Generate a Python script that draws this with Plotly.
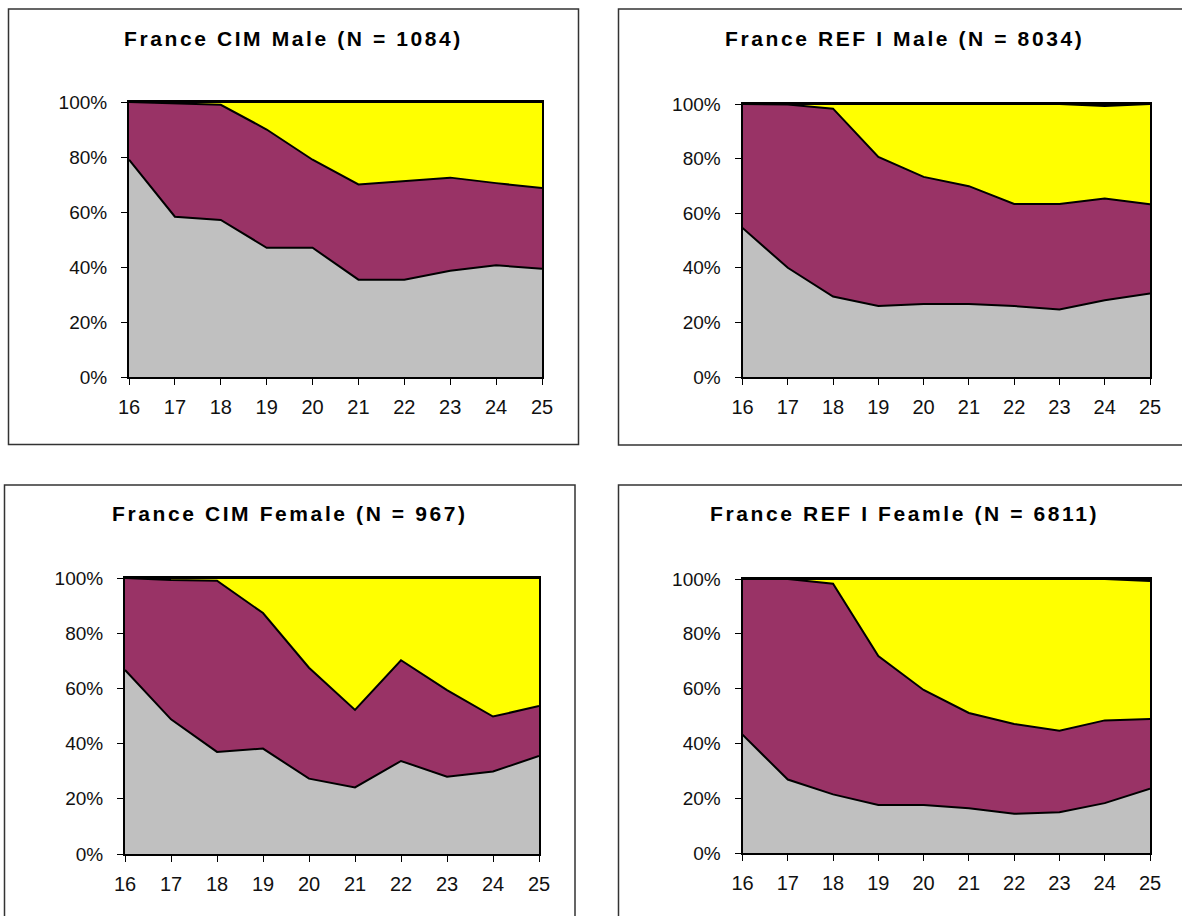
import plotly.graph_objects as go

W, H = 1182, 916

ages = [16, 17, 18, 19, 20, 21, 22, 23, 24, 25]
y_ticks = [0, 20, 40, 60, 80, 100]
y_tick_labels = ["0%", "20%", "40%", "60%", "80%", "100%"]

titles = [
    "France CIM Male (N = 1084)",
    "France REF I Male (N = 8034)",
    "France CIM Female (N = 967)",
    "France REF I Feamle (N = 6811)",
]

# stacked shares (%) per panel, bottom to top
cim_male_grey = [79.0, 58.3, 57.1, 47.0, 47.0, 35.4, 35.4, 38.6, 40.6, 39.4]
cim_male_purple = [21.0, 41.2, 41.9, 43.0, 32.0, 34.6, 35.9, 33.9, 29.9, 29.3]
cim_male_yellow = [0.0, 0.5, 1.0, 10.0, 21.0, 30.0, 28.7, 27.5, 29.5, 31.3]
cim_male_other = [0, 0, 0, 0, 0, 0, 0, 0, 0, 0]

ref_male_grey = [54.6, 40.0, 29.5, 26.0, 26.7, 26.7, 26.0, 24.7, 28.1, 30.6]
ref_male_purple = [45.4, 59.8, 68.8, 54.6, 46.6, 43.2, 37.4, 38.7, 37.3, 32.7]
ref_male_yellow = [0.0, 0.2, 1.7, 19.4, 26.7, 30.1, 36.6, 36.6, 33.9, 36.7]
ref_male_other = [0, 0, 0, 0, 0, 0, 0, 0, 0.7, 0]

cim_female_grey = [66.7, 48.8, 37.0, 38.2, 27.3, 24.1, 33.7, 28.0, 29.9, 35.5]
cim_female_purple = [33.3, 50.5, 62.0, 49.1, 40.2, 28.1, 36.5, 31.4, 19.9, 18.1]
cim_female_yellow = [0.0, 0.7, 1.0, 12.7, 32.5, 47.8, 29.8, 40.6, 50.2, 46.4]
cim_female_other = [0, 0, 0, 0, 0, 0, 0, 0, 0, 0]

ref_female_grey = [43.2, 26.8, 21.4, 17.5, 17.5, 16.3, 14.3, 14.9, 18.2, 23.5]
ref_female_purple = [56.8, 73.2, 76.9, 54.4, 42.0, 34.8, 32.8, 29.7, 30.2, 25.4]
ref_female_yellow = [0.0, 0.0, 1.7, 28.1, 40.5, 48.9, 52.9, 55.4, 51.6, 50.4]
ref_female_other = [0, 0, 0, 0, 0, 0, 0, 0, 0, 0.7]

panels = [
    [cim_male_grey, cim_male_purple, cim_male_yellow, cim_male_other],
    [ref_male_grey, ref_male_purple, ref_male_yellow, ref_male_other],
    [cim_female_grey, cim_female_purple, cim_female_yellow, cim_female_other],
    [ref_female_grey, ref_female_purple, ref_female_yellow, ref_female_other],
]
fills = ["#C0C0C0", "#993366", "#FFFF00", "#FFFFFF"]

# pixel layout: plot area (x0, x1, y0, y1), outer box, title centre
plot_px = [
    (129, 542, 102, 377),
    (742.5, 1150, 104, 377),
    (125, 539, 578, 854),
    (742.5, 1150, 579, 853),
]
box_px = [
    (8.5, 578.5, 9, 444.5),
    (618.5, 1190, 9, 445),
    (4.5, 575, 485, 930),
    (618.5, 1190, 485, 930),
]
title_px = [(293.5, 38), (904, 38), (289.8, 513), (904, 513)]


def px_x(v):
    return v / W


def px_y(v):
    return 1 - v / H


fig = go.Figure()

for i, series in enumerate(panels):
    n = "" if i == 0 else str(i + 1)
    for vals, col in zip(series, fills):
        fig.add_trace(
            go.Scatter(
                x=ages,
                y=vals,
                mode="lines",
                stackgroup=f"s{i}",
                line=dict(color="black", width=2),
                fillcolor=col,
                xaxis=f"x{n}",
                yaxis=f"y{n}",
                showlegend=False,
                hoverinfo="skip",
            )
        )

    x0, x1, y0, y1 = plot_px[i]
    fig.update_layout(
        {
            f"xaxis{n}": dict(
                domain=[px_x(x0), px_x(x1)],
                anchor=f"y{n}",
                range=[16, 25],
                tickvals=ages,
                ticks="outside",
                ticklen=6,
                tickcolor="black",
                showgrid=False,
                zeroline=False,
                showline=True,
                linecolor="black",
                linewidth=2,
                mirror=True,
                automargin=False,
                tickfont=dict(family="Liberation Sans, Arial", size=20, color="#111"),
                ticklabelstandoff=5,
            ),
            f"yaxis{n}": dict(
                domain=[px_y(y1), px_y(y0)],
                anchor=f"x{n}",
                range=[0, 100],
                tickvals=y_ticks,
                ticktext=y_tick_labels,
                ticks="outside",
                ticklen=6,
                tickcolor="black",
                showgrid=False,
                zeroline=False,
                showline=True,
                linecolor="black",
                linewidth=2,
                mirror=True,
                automargin=False,
                tickfont=dict(family="Liberation Sans, Arial", size=19, color="#111"),
                ticklabelstandoff=10,
            ),
        }
    )

    bx0, bx1, by0, by1 = box_px[i]
    fig.add_shape(
        type="rect", xref="paper", yref="paper",
        x0=px_x(bx0), x1=px_x(bx1), y0=px_y(by1), y1=px_y(by0),
        line=dict(color="#333333", width=1.5), layer="below",
    )

    tx, ty = title_px[i]
    fig.add_annotation(
        text=f'<span style="letter-spacing:2.6px">{titles[i]}</span>',
        xref="paper", yref="paper", x=px_x(tx), y=px_y(ty),
        xanchor="center", yanchor="middle", showarrow=False,
        font=dict(family="Liberation Sans, Arial", size=21, color="black", weight="bold"),
    )

fig.update_layout(
    width=W,
    height=H,
    margin=dict(l=0, r=0, t=0, b=0),
    paper_bgcolor="white",
    plot_bgcolor="white",
    showlegend=False,
)

# drop the page's default body margin so the figure sits at the window origin
fig.write_html(
    "out.html",
    config={"displayModeBar": False},
    post_script="document.body.style.margin = '0';",
)
